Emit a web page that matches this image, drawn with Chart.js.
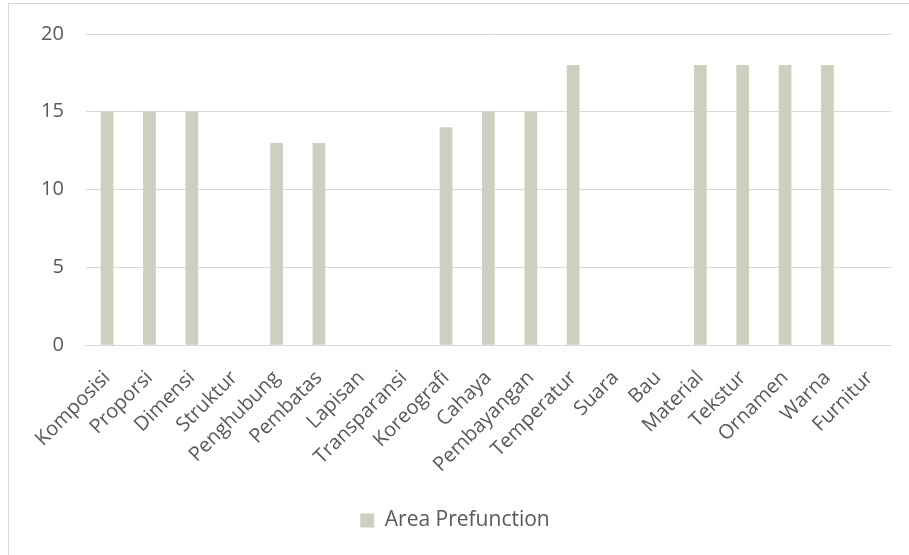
<!DOCTYPE html>
<html>
<head>
<meta charset="utf-8">
<script src="https://cdn.jsdelivr.net/npm/chart.js@4/dist/chart.umd.min.js"></script>
<style>
  html, body { margin: 0; padding: 0; background: #fff; }
  #cadre { position: absolute; left: 8px; top: 3px; width: 1000px; height: 700px;
           border: 1px solid #d9d9d9; }
  #zone { position: absolute; left: 0; top: 0; width: 909px; height: 555px; }
</style>
</head>
<body>
<div id="cadre"></div>
<div id="zone"><canvas id="graphique"></canvas></div>
<script>
// Catégories (axe X)
const categories = ['Komposisi', 'Proporsi', 'Dimensi', 'Struktur', 'Penghubung', 'Pembatas',
    'Lapisan', 'Transparansi', 'Koreografi', 'Cahaya', 'Pembayangan', 'Temperatur',
    'Suara', 'Bau', 'Material', 'Tekstur', 'Ornamen', 'Warna', 'Furnitur'];

// Valeurs de la série
const valeursPrefunction = [15, 15, 15, 0, 13, 13, 0, 0, 14, 15, 15, 18, 0, 0, 18, 18, 18, 18, 0];

// Graduations de l'axe Y
const ticksY = [0, 5, 10, 15, 20];

const gris = '#595959';
const police = { family: "'Open Sans', sans-serif", size: 20 };

new Chart(document.getElementById('graphique'), {
    type: 'bar',
    data: {
        labels: categories,
        datasets: [{
            label: 'Area Prefunction',
            data: valeursPrefunction,
            backgroundColor: '#cfcfbf',
            barPercentage: 0.3,
            categoryPercentage: 1.0,
        }]
    },
    options: {
        responsive: true,
        maintainAspectRatio: false,
        animation: false,
        layout: { padding: { left: 19, right: 18, top: 22, bottom: 14 } },
        plugins: {
            legend: {
                position: 'bottom',
                labels: {
                    boxWidth: 14, boxHeight: 14,
                    color: gris, font: { family: police.family, size: 21 }, padding: 20,
                }
            },
            tooltip: { enabled: false }
        },
        scales: {
            x: {
                grid: { display: false },
                border: { color: '#d9d9d9' },
                ticks: {
                    color: gris, font: police,
                    maxRotation: 45, minRotation: 45,
                    autoSkip: false, padding: 13,
                }
            },
            y: {
                min: 0, max: 20,
                afterBuildTicks: function(scale) {
                    scale.ticks = ticksY.map(v => ({ value: v }));
                },
                grid: { color: '#d9d9d9', drawTicks: false },
                border: { display: false },
                ticks: { color: gris, font: police, padding: 22 }
            }
        }
    }
});
</script>
</body>
</html>
